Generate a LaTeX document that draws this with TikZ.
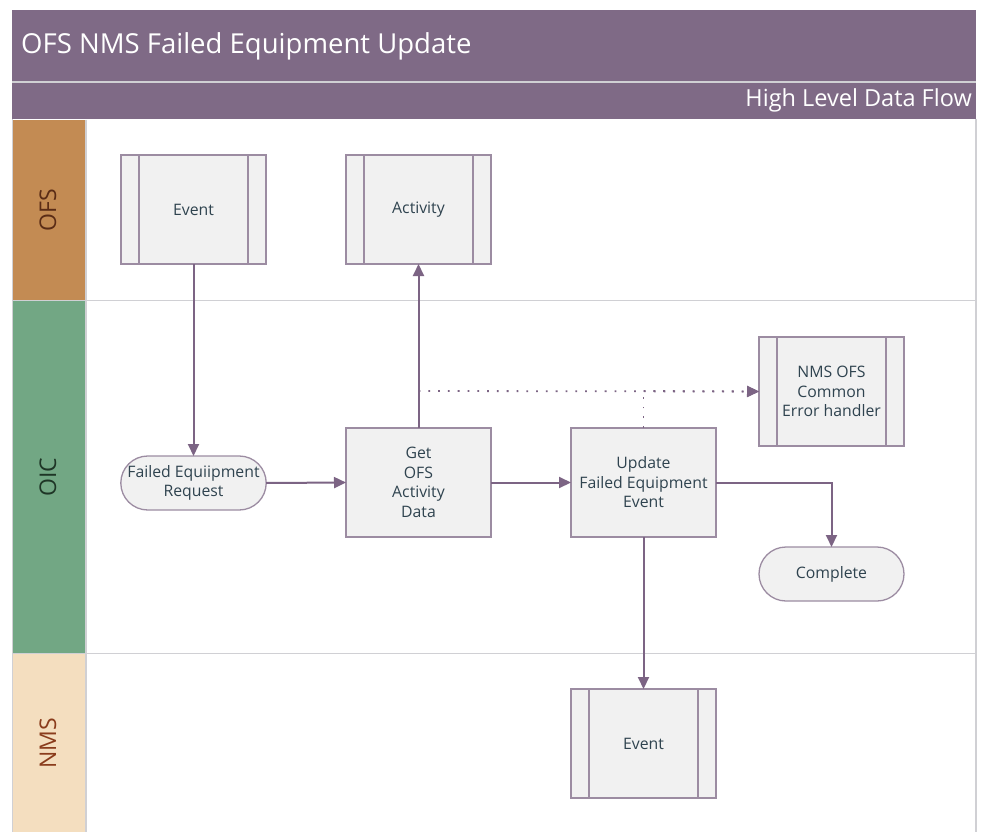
\documentclass[tikz,border=0pt]{standalone}
\usepackage{fontspec}
\setmainfont{Open Sans}
\usetikzlibrary{arrows.meta,shapes.misc}
\definecolor{hdr}{HTML}{7F6A86}
\definecolor{ofsc}{HTML}{C38B53}
\definecolor{oicc}{HTML}{72A784}
\definecolor{nmsc}{HTML}{F4DEBF}
\definecolor{ofst}{HTML}{5A2C16}
\definecolor{oict}{HTML}{1E3526}
\definecolor{nmst}{HTML}{8A3C1C}
\definecolor{boxfill}{HTML}{F1F1F1}
\definecolor{boxline}{HTML}{9C8CA2}
\definecolor{conn}{HTML}{7C6484}
\definecolor{txt}{HTML}{2F434F}
\definecolor{lanegray}{HTML}{D0D0D4}
\tikzset{
  x=1pt, y=-1pt,
  box/.style={draw=boxline, line width=1.3pt, fill=boxfill, rectangle,
    minimum width=145pt, minimum height=109pt, inner sep=0pt, outer sep=0pt,
    align=center, text=txt, font=\fontsize{15.8}{19.5}\selectfont},
  subproc/.style={box, path picture={
    \draw[boxline, line width=1.3pt]
      ([xshift=18pt]path picture bounding box.north west) -- ([xshift=18pt]path picture bounding box.south west)
      ([xshift=-18pt]path picture bounding box.north east) -- ([xshift=-18pt]path picture bounding box.south east);}},
  term/.style={draw=boxline, line width=1.3pt, fill=boxfill, rounded rectangle,
    minimum width=145pt, minimum height=54pt, inner sep=0pt, outer sep=0pt,
    align=center, text=txt, font=\fontsize{15.8}{19.5}\selectfont},
  flow/.style={draw=conn, line width=2pt, -{Triangle[length=12pt,width=11pt]}},
  dotflow/.style={draw=conn, line width=1.8pt, dash pattern=on 1.8pt off 8pt, -{Triangle[length=12pt,width=11pt]}},
  dotline/.style={draw=conn, line width=1.8pt, dash pattern=on 1.8pt off 8pt},
  lanelabel/.style={rotate=90, font=\fontsize{23}{26}\selectfont},
}
\begin{document}
\begin{tikzpicture}
\useasboundingbox (0,0) rectangle (982,832);
\fill[white] (0,0) rectangle (982,832);
% header
\fill[hdr] (12,10) rectangle (976,119);
\draw[lanegray, line width=1.2pt] (12,82) -- (976,82);
\node[anchor=west, text=white, font=\fontsize{27.5}{32}\selectfont, inner sep=0pt] (title) at (21,46) {OFS NMS Failed Equipment Update};
\node[anchor=east, text=white, font=\fontsize{23.5}{27}\selectfont, inner sep=0pt] (subtitle) at (972,100) {High Level Data Flow};
% lanes
\fill[ofsc] (12,120) rectangle (86,300);
\fill[oicc] (12,301) rectangle (86,653);
\fill[nmsc] (12,654) rectangle (86,832);
\draw[lanegray, line width=1.5pt] (12,300.5) -- (976,300.5);
\draw[lanegray, line width=1.5pt] (12,653.5) -- (976,653.5);
\draw[lanegray, line width=1.5pt] (86,120) -- (86,832);
\draw[lanegray, line width=1.5pt] (976,119) -- (976,832);
\draw[lanegray, line width=1pt] (12,119) -- (12,832);
\node[lanelabel, text=ofst] (lofs) at (48,210) {OFS};
\node[lanelabel, text=oict] (loic) at (48,477) {OIC};
\node[lanelabel, text=nmst] (lnms) at (48,743) {NMS};
% nodes
\node[subproc] (ev1) at (193.5,209.5) {Event};
\node[subproc] (act) at (418.5,209.5) {Activity};
\node[subproc] (err) at (831.5,391.5) {NMS OFS\\Common\\Error handler};
\node[term] (fer) at (193.5,483) {Failed Equiipment\\Request};
\node[box] (get) at (418.5,482.5) {Get\\OFS\\Activity\\Data};
\node[box] (upd) at (643.5,482.5) {Update\\Failed Equipment\\Event};
\node[term] (cmp) at (831.5,574) {Complete};
\node[subproc] (ev2) at (643.5,743.5) {Event};
% connectors
\coordinate (dj1) at (418.5,391);
\coordinate (dj2) at (643.5,391);
\draw[dotflow] (dj1) -- (err.west);
\draw[dotline] (upd.north) -- (dj2);
\draw[dotflow] (dj2) -- (err.west);
\draw[flow] (ev1.south) -- (fer.north);
\draw[flow] (fer.east) -- (get.west);
\draw[flow] (get.north) -- (act.south);
\draw[flow] (get.east) -- (upd.west);
\draw[flow] (upd.east) -| (cmp.north);
\draw[flow] (upd.south) -- (ev2.north);
\end{tikzpicture}
\end{document}
